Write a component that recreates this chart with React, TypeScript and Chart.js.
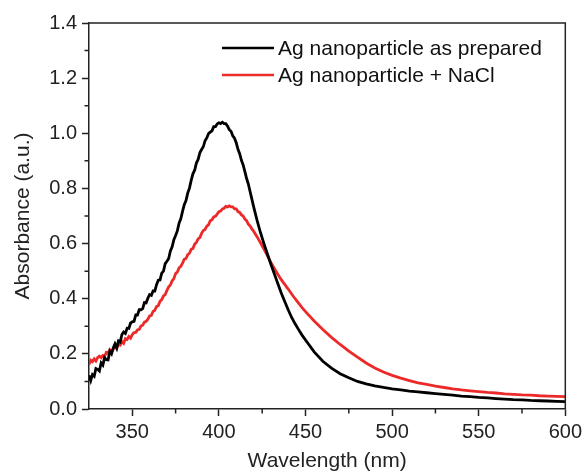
import { useEffect, useRef } from 'react';
import { Chart, registerables } from 'chart.js';

Chart.register(...registerables);

// Wavelength (nm)
const wavelengths = [
  325, 326, 327, 328, 329, 330, 331, 332, 333, 334,
  335, 336, 337, 338, 339, 340, 341, 342, 343, 344,
  345, 346, 347, 348, 349, 350, 351, 352, 353, 354,
  355, 356, 357, 358, 359, 360, 361, 362, 363, 364,
  365, 366, 367, 368, 369, 370, 371, 372, 373, 374,
  375, 376, 377, 378, 379, 380, 381, 382, 383, 384,
  385, 386, 387, 388, 389, 390, 391, 392, 393, 394,
  395, 396, 397, 398, 399, 400, 401, 402, 403, 404,
  405, 406, 407, 408, 409, 410, 411, 412, 413, 414,
  415, 416, 417, 418, 419, 420,
  422, 424, 426, 428, 430, 432, 434, 436, 438, 440, 442, 444, 446, 448, 450,
  455, 460, 465, 470, 475, 480, 485, 490, 495, 500,
  505, 510, 515, 520, 525, 530, 535, 540, 545, 550,
  555, 560, 565, 570, 575, 580, 585, 590, 595, 600,
];

// Absorbance, Ag nanoparticle as prepared
const asPrepared = [
  0.122, 0.103, 0.125, 0.119, 0.147, 0.144, 0.138, 0.167, 0.159, 0.186,
  0.179, 0.178, 0.209, 0.2, 0.221, 0.236, 0.221, 0.247, 0.243, 0.27,
  0.279, 0.274, 0.293, 0.292, 0.312, 0.316, 0.318, 0.341, 0.341, 0.36,
  0.36, 0.364, 0.386, 0.385, 0.402, 0.415, 0.412, 0.428, 0.428, 0.451,
  0.467, 0.468, 0.493, 0.5, 0.527, 0.536, 0.546, 0.573, 0.588, 0.614,
  0.629, 0.646, 0.674, 0.69, 0.717, 0.741, 0.756, 0.783, 0.801, 0.829,
  0.853, 0.866, 0.892, 0.905, 0.929, 0.941, 0.951, 0.973, 0.983, 0.999,
  1.004, 1.009, 1.024, 1.024, 1.034, 1.038, 1.035, 1.04, 1.035, 1.035,
  1.026, 1.013, 1.007, 0.991, 0.982, 0.966, 0.942, 0.926, 0.902, 0.885,
  0.861, 0.836, 0.816, 0.789, 0.762, 0.735,
  0.685, 0.64, 0.6, 0.562, 0.525, 0.49, 0.455, 0.421, 0.39, 0.36, 0.332, 0.309, 0.288, 0.268, 0.25,
  0.207, 0.173, 0.148, 0.128, 0.113, 0.1, 0.091, 0.084, 0.078, 0.073,
  0.069, 0.065, 0.062, 0.059, 0.056, 0.053, 0.05, 0.047, 0.045, 0.042,
  0.04, 0.038, 0.036, 0.034, 0.033, 0.031, 0.03, 0.029, 0.028, 0.027,
];

// Absorbance, Ag nanoparticle + NaCl
const withNaCl = [
  0.162, 0.177, 0.172, 0.182, 0.174, 0.186, 0.192, 0.186, 0.194, 0.191,
  0.205, 0.202, 0.215, 0.208, 0.217, 0.228, 0.22, 0.235, 0.232, 0.245,
  0.238, 0.255, 0.252, 0.263, 0.257, 0.27, 0.277, 0.278, 0.287, 0.289,
  0.301, 0.304, 0.315, 0.318, 0.326, 0.338, 0.34, 0.354, 0.358, 0.372,
  0.375, 0.391, 0.397, 0.41, 0.415, 0.43, 0.443, 0.45, 0.465, 0.473,
  0.491, 0.497, 0.512, 0.517, 0.529, 0.543, 0.546, 0.56, 0.565, 0.579,
  0.582, 0.598, 0.604, 0.617, 0.622, 0.637, 0.647, 0.651, 0.663, 0.668,
  0.683, 0.686, 0.697, 0.699, 0.707, 0.716, 0.718, 0.726, 0.728, 0.735,
  0.733, 0.737, 0.733, 0.733, 0.726, 0.726, 0.716, 0.713, 0.704, 0.7,
  0.689, 0.683, 0.67, 0.664, 0.653, 0.645,
  0.625, 0.603, 0.58, 0.556, 0.532, 0.51, 0.489, 0.469, 0.452, 0.435, 0.417, 0.4, 0.384, 0.368, 0.353,
  0.319, 0.288, 0.26, 0.234, 0.21, 0.188, 0.167, 0.149, 0.134, 0.122,
  0.112, 0.103, 0.095, 0.089, 0.083, 0.078, 0.073, 0.069, 0.066, 0.063,
  0.06, 0.058, 0.055, 0.053, 0.051, 0.05, 0.048, 0.047, 0.046, 0.045,
];

const seriesLabels = ['Ag nanoparticle as prepared', 'Ag nanoparticle + NaCl'];
const seriesColors = ['#000000', '#ec2a2a'];

const xMajorTicks = [350, 400, 450, 500, 550, 600];
const xMinorTicks = [375, 425, 475, 525, 575];
const yMajorTicks = [0, 0.2, 0.4, 0.6, 0.8, 1.0, 1.2, 1.4];
const yMinorTicks = [0.1, 0.3, 0.5, 0.7, 0.9, 1.1, 1.3];

const FONT = '"Liberation Sans", Arial, Helvetica, sans-serif';
const AXIS = '#222222';

const framePlugin = {
  id: 'frameLegendMinor',
  afterDraw(chart: any) {
    const { ctx, chartArea } = chart;
    const { left, right, top, bottom } = chartArea;
    const xs = chart.scales.x;
    const ys = chart.scales.y;
    ctx.save();
    ctx.strokeStyle = AXIS;
    ctx.lineWidth = 1.5;
    // top and right frame
    ctx.beginPath();
    ctx.moveTo(left, top);
    ctx.lineTo(right, top);
    ctx.lineTo(right, bottom);
    ctx.stroke();
    // minor ticks
    ctx.beginPath();
    for (const v of xMinorTicks) {
      const px = xs.getPixelForValue(v);
      ctx.moveTo(px, bottom);
      ctx.lineTo(px, bottom + 4.5);
    }
    for (const v of yMinorTicks) {
      const py = ys.getPixelForValue(v);
      ctx.moveTo(left, py);
      ctx.lineTo(left - 4.5, py);
    }
    ctx.stroke();
    // legend
    const rows = [48, 75];
    ctx.font = `21px ${FONT}`;
    ctx.textBaseline = 'middle';
    ctx.textAlign = 'left';
    chart.data.datasets.forEach((ds: any, i: number) => {
      const y = rows[i];
      ctx.strokeStyle = ds.borderColor;
      ctx.lineWidth = 2.6;
      ctx.beginPath();
      ctx.moveTo(222, y);
      ctx.lineTo(274, y);
      ctx.stroke();
      ctx.fillStyle = '#111111';
      ctx.fillText(ds.label, 278, y + 1);
    });
    ctx.restore();
  },
};

export default function App() {
  const ref = useRef<HTMLCanvasElement | null>(null);

  useEffect(() => {
    const canvas = ref.current;
    if (!canvas) return;
    const chart = new Chart(canvas, {
      type: 'line',
      data: {
        datasets: [
          {
            label: seriesLabels[0],
            data: wavelengths.map((w, i) => ({ x: w, y: asPrepared[i] })),
            borderColor: seriesColors[0],
            borderWidth: 2.8,
            pointRadius: 0,
            tension: 0,
          },
          {
            label: seriesLabels[1],
            data: wavelengths.map((w, i) => ({ x: w, y: withNaCl[i] })),
            borderColor: seriesColors[1],
            borderWidth: 2.8,
            pointRadius: 0,
            tension: 0,
          },
        ],
      },
      options: {
        responsive: false,
        animation: false,
        devicePixelRatio: 1,
        layout: { padding: { top: 23, right: 20, left: 0, bottom: 0 } },
        plugins: {
          legend: { display: false },
          tooltip: { enabled: false },
        },
        scales: {
          x: {
            type: 'linear',
            min: 325,
            max: 600,
            afterBuildTicks: (scale: any) => {
              scale.ticks = xMajorTicks.map((v) => ({ value: v }));
            },
            afterFit: (scale: any) => {
              scale.height = 65;
            },
            grid: {
              drawOnChartArea: false,
              drawTicks: true,
              tickLength: 7,
              tickColor: AXIS,
              tickWidth: 1.5,
            },
            border: { display: true, color: AXIS, width: 1.5 },
            ticks: {
              color: '#222222',
              font: { family: FONT, size: 20 },
              padding: 4,
              maxRotation: 0,
              autoSkip: false,
              callback: (v: any) => String(v),
            },
            title: {
              display: true,
              text: 'Wavelength (nm)',
              color: '#222222',
              font: { family: FONT, size: 21 },
              padding: { top: 0, bottom: 0 },
            },
          },
          y: {
            type: 'linear',
            min: 0,
            max: 1.4,
            afterBuildTicks: (scale: any) => {
              scale.ticks = yMajorTicks.map((v) => ({ value: v }));
            },
            afterFit: (scale: any) => {
              scale.width = 89;
            },
            grid: {
              drawOnChartArea: false,
              drawTicks: true,
              tickLength: 7,
              tickColor: AXIS,
              tickWidth: 1.5,
            },
            border: { display: true, color: AXIS, width: 1.5 },
            ticks: {
              color: '#222222',
              font: { family: FONT, size: 20 },
              padding: 5,
              autoSkip: false,
              callback: (v: any) => Number(v).toFixed(1),
            },
            title: {
              display: true,
              text: 'Absorbance (a.u.)',
              color: '#222222',
              font: { family: FONT, size: 21 },
              padding: { top: 11, bottom: 0 },
            },
          },
        },
      },
      plugins: [framePlugin],
    } as any);
    return () => chart.destroy();
  }, []);

  return (
    <div style={{ position: 'fixed', left: 0, top: 0, width: 586, height: 474, background: '#ffffff' }}>
      <canvas ref={ref} width={586} height={474} style={{ display: 'block' }} />
    </div>
  );
}
